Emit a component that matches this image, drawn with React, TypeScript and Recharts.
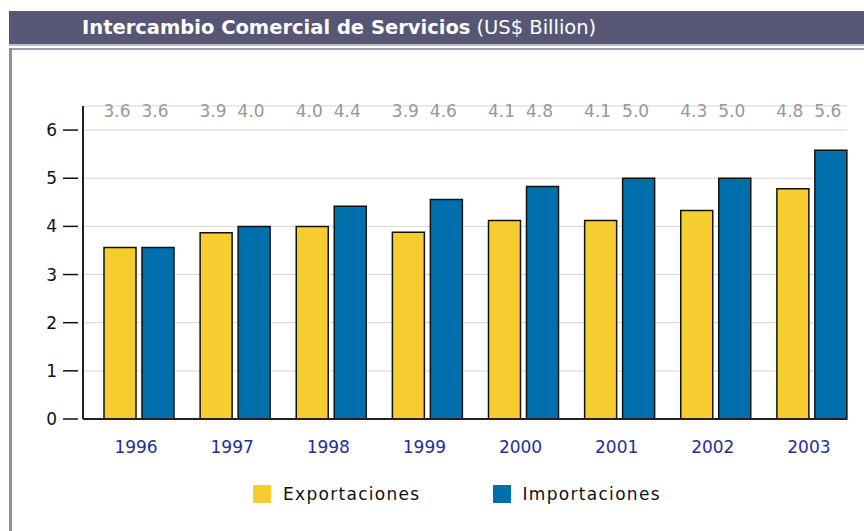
import React from 'react';
import {
  BarChart,
  Bar,
  XAxis,
  YAxis,
  CartesianGrid,
  Legend,
  LabelList,
} from 'recharts';

const years = ['1996', '1997', '1998', '1999', '2000', '2001', '2002', '2003'];
const exportaciones = [3.56, 3.87, 4.0, 3.88, 4.12, 4.12, 4.33, 4.78];
const importaciones = [3.56, 4.0, 4.42, 4.56, 4.83, 5.0, 5.0, 5.58];
const yTicks = [0, 1, 2, 3, 4, 5, 6];

const data = years.map((year, i) => ({
  year,
  exp: exportaciones[i],
  imp: importaciones[i],
}));

const FONT = '"DejaVu Sans", Verdana, sans-serif';
const PLOT_TOP = 106;

function YTick({ x, y, payload }: any) {
  return (
    <g>
      <text x={x - 18} y={y} dy={6} textAnchor="end" fontSize={17} fill="#111" fontFamily={FONT}>
        {payload.value}
      </text>
      <line x1={x - 12} x2={x + 3} y1={y} y2={y} stroke="#111" strokeWidth={1.5} />
    </g>
  );
}

function XTick({ x, y, payload }: any) {
  return (
    <text x={x - 3} y={y + 26} textAnchor="middle" fontSize={17} fill="#1f2e9c" fontFamily={FONT}>
      {payload.value}
    </text>
  );
}

// value labels sit in a row above the plot, not on the bars
function TopLabel({ x, width, value }: any) {
  return (
    <text x={x + width / 2 - 3} y={PLOT_TOP + 11} textAnchor="middle" fontSize={17} fill="#999" fontFamily={FONT}>
      {Number(value).toFixed(1)}
    </text>
  );
}

function LegendContent({ payload }: any) {
  return (
    <div style={{ display: 'flex', paddingLeft: 253, gap: 72 }}>
      {payload.map((p: any) => (
        <div key={p.value} style={{ display: 'flex', alignItems: 'center', height: 20 }}>
          <span style={{ width: 18, height: 18, background: p.color, display: 'inline-block', marginRight: 12 }} />
          <span style={{ fontSize: 17, letterSpacing: 1.3, color: '#111', fontFamily: FONT }}>{p.value}</span>
        </div>
      ))}
    </div>
  );
}

export default function App() {
  return (
    <div style={{ position: 'absolute', left: 0, top: 0, width: 864, height: 531, background: '#fff', overflow: 'hidden' }}>
      <div
        style={{
          position: 'absolute',
          left: 9,
          top: 11,
          width: 855,
          height: 33,
          background: '#575775',
          color: '#fff',
          fontFamily: FONT,
          fontSize: 19.5,
          lineHeight: '33px',
          whiteSpace: 'nowrap',
        }}
      >
        <span style={{ marginLeft: 73, fontWeight: 'bold' }}>Intercambio Comercial de Servicios</span>
        <span style={{ marginLeft: 6 }}>(US$ Billion)</span>
      </div>
      <div style={{ position: 'absolute', left: 9, top: 44, width: 855, height: 2, background: '#bcbccb' }} />
      <div style={{ position: 'absolute', left: 9, top: 48, width: 855, height: 2, background: '#9d9cb0' }} />
      <div style={{ position: 'absolute', left: 9, top: 48, width: 3, height: 483, background: '#8d8ca6' }} />
      <div style={{ position: 'absolute', left: 0, top: 0 }}>
        <BarChart
          width={864}
          height={531}
          data={data}
          margin={{ top: PLOT_TOP, right: 17, bottom: 0, left: 3 }}
          barSize={32}
          barGap={6}
        >
          <CartesianGrid vertical={false} stroke="#d6d6d6" />
          <YAxis
            domain={[0, 6.5]}
            ticks={yTicks}
            width={80}
            axisLine={{ stroke: '#222', strokeWidth: 2 }}
            tickLine={false}
            tick={<YTick />}
          />
          <XAxis
            dataKey="year"
            height={92}
            padding={{ left: 8, right: -13 }}
            axisLine={{ stroke: '#222', strokeWidth: 2 }}
            tickLine={false}
            tick={<XTick />}
            interval={0}
          />
          <Legend
            verticalAlign="bottom"
            wrapperStyle={{ left: 0, width: 864, bottom: 27 }}
            content={<LegendContent />}
          />
          <Bar dataKey="exp" name="Exportaciones" fill="#f5cd2f" stroke="#111" strokeWidth={1.5} isAnimationActive={false}>
            <LabelList dataKey="exp" content={<TopLabel />} />
          </Bar>
          <Bar dataKey="imp" name="Importaciones" fill="#0070ac" stroke="#111" strokeWidth={1.5} isAnimationActive={false}>
            <LabelList dataKey="imp" content={<TopLabel />} />
          </Bar>
        </BarChart>
      </div>
    </div>
  );
}
